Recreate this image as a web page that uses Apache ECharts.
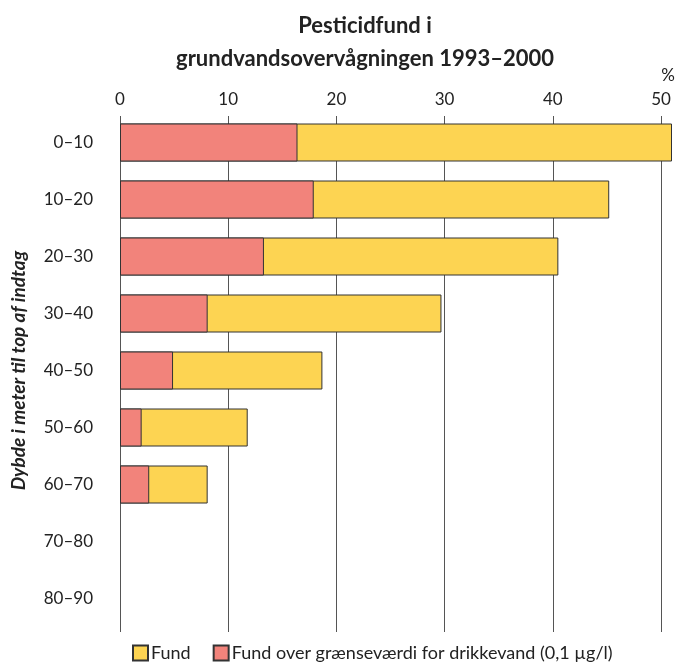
<!DOCTYPE html>
<html>
<head>
<meta charset="utf-8">
<script src="https://cdn.jsdelivr.net/npm/echarts@6/dist/echarts.min.js"></script>
<style>
  html, body { margin: 0; padding: 0; background: #fff; }
  #chart { width: 675px; height: 668px; }
</style>
</head>
<body>
<div id="chart"></div>
<script>
// dybde-intervaller (m)
const depths = ["0–10", "10–20", "20–30", "30–40", "40–50", "50–60", "60–70", "70–80", "80–90"];
// andel boringer med fund (%)
const fund = [51.0, 45.2, 40.5, 29.7, 18.7, 11.8, 8.1, null, null];
// andel med fund over grænseværdi (%)
const overLimit = [16.4, 17.9, 13.3, 8.1, 4.9, 2.0, 2.7, null, null];
const xTicks = [0, 10, 20, 30, 40, 50];

const font = "Lato, 'Open Sans', sans-serif";
const chart = echarts.init(document.getElementById("chart"));

const option = {
  animation: false,
  title: [
    {
      text: "Pesticidfund i\ngrundvandsovervågningen 1993–2000",
      left: 360,
      top: 4,
      textAlign: "center",
      textStyle: {
        fontFamily: font,
        fontWeight: "bold",
        fontSize: 22,
        lineHeight: 33,
        color: "#222",
      },
    },
    {
      // enhed for x-aksen
      text: "%",
      left: 663,
      top: 62,
      textAlign: "center",
      textStyle: { fontFamily: font, fontWeight: "normal", fontSize: 17, color: "#222" },
    },
  ],
  legend: {
    bottom: 1,
    left: 127,
    itemWidth: 15,
    itemHeight: 15,
    itemGap: 22,
    icon: "rect",
    textStyle: { fontFamily: font, fontSize: 18, color: "#222", padding: [0, 0, 0, -2] },
    data: ["Fund", "Fund over grænseværdi for drikkevand (0,1 µg/l)"],
  },
  grid: [
    { left: 120, top: 114, width: 552, height: 513, outerBoundsMode: "none" },
    // gitter til akse-etiketter og linjer, 0–50
    { left: 120, top: 116, width: 541, height: 516, outerBoundsMode: "none" },
  ],
  xAxis: [
    {
      type: "value",
      gridIndex: 0,
      min: 0,
      max: 51,
      show: false,
    },
    {
      type: "value",
      gridIndex: 1,
      position: "top",
      min: xTicks[0],
      max: xTicks[xTicks.length - 1],
      interval: 10,
      axisLine: { show: false },
      axisTick: { show: false },
      axisLabel: { fontFamily: font, fontSize: 17, color: "#222", margin: 8 },
      splitLine: { show: true, lineStyle: { color: "#555", width: 1 } },
    },
  ],
  yAxis: [
    {
      type: "category",
      gridIndex: 0,
      data: depths,
      inverse: true,
      name: "Dybde i meter til top af indtag",
      nameLocation: "middle",
      nameGap: 92,
      nameRotate: 90,
      nameTextStyle: {
        fontFamily: font,
        fontSize: 19,
        fontWeight: "bold",
        fontStyle: "italic",
        color: "#222",
      },
      axisLine: { show: false },
      axisTick: { show: false },
      axisLabel: { fontFamily: font, fontSize: 17, color: "#222", margin: 27 },
    },
    {
      type: "category",
      gridIndex: 1,
      data: depths,
      show: false,
    },
  ],
  series: [
    {
      name: "Fund",
      type: "bar",
      xAxisIndex: 0,
      yAxisIndex: 0,
      data: fund,
      barWidth: 38,
      barGap: "-100%",
      itemStyle: { color: "#FDD452", borderColor: "#333", borderWidth: 1 },
      z: 3,
    },
    {
      name: "Fund over grænseværdi for drikkevand (0,1 µg/l)",
      type: "bar",
      xAxisIndex: 0,
      yAxisIndex: 0,
      data: overLimit,
      barWidth: 38,
      barGap: "-100%",
      itemStyle: { color: "#F2837B", borderColor: "#333", borderWidth: 1 },
      z: 4,
    },
  ],
};

chart.setOption(option);
</script>
</body>
</html>
